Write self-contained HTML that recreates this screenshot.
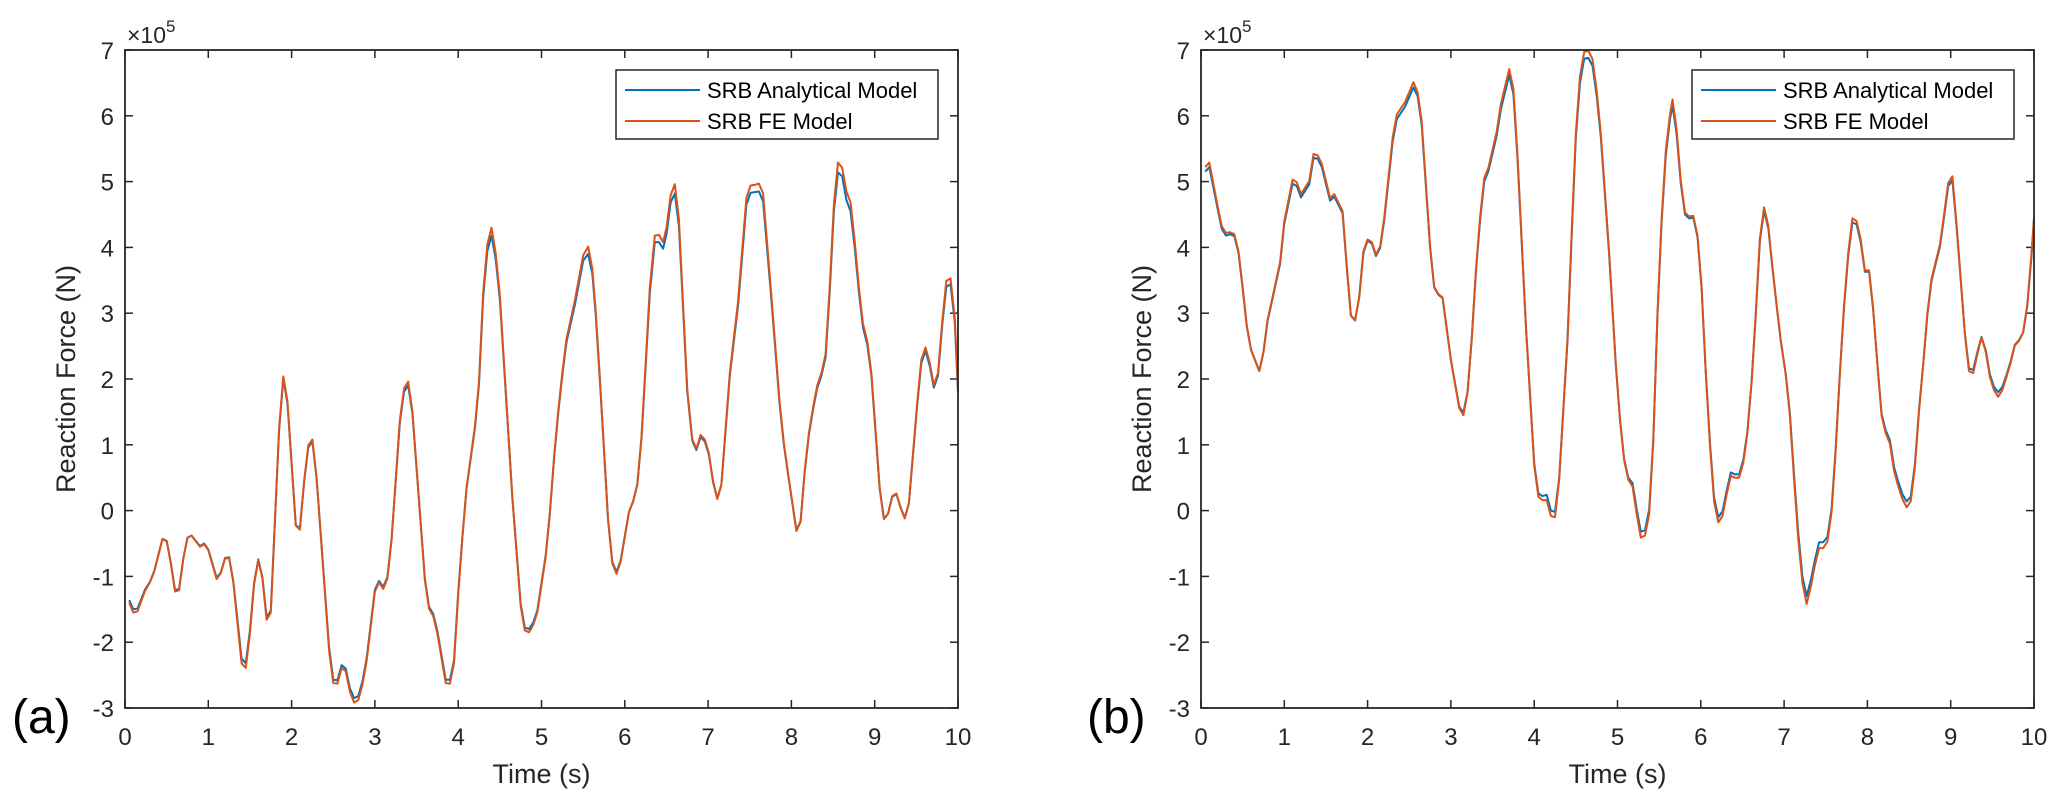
<!DOCTYPE html>
<html><head><meta charset="utf-8"><style>
html,body{margin:0;padding:0;background:#fff;}
svg{display:block;font-family:"Liberation Sans",Arial,sans-serif;}
</style></head><body>
<svg id="fig" width="2067" height="806" viewBox="0 0 2067 806" xmlns="http://www.w3.org/2000/svg"></svg>
<script>
// ---- Chart (a) data ----
const tA = [0.05,0.10,0.15,0.24,0.30,0.35,0.45,0.50,0.55,0.60,0.65,0.70,0.75,0.80,0.90,0.95,1.00,1.10,1.15,1.20,1.25,1.30,1.40,1.45,1.50,1.55,1.60,1.65,1.70,1.75,1.85,1.90,1.95,2.05,2.10,2.15,2.20,2.25,2.30,2.35,2.45,2.50,2.55,2.60,2.65,2.70,2.75,2.80,2.85,2.90,3.00,3.05,3.10,3.15,3.20,3.30,3.35,3.40,3.45,3.60,3.65,3.70,3.75,3.85,3.90,3.95,4.00,4.05,4.10,4.20,4.25,4.30,4.35,4.40,4.45,4.50,4.65,4.75,4.80,4.85,4.90,4.95,5.05,5.10,5.15,5.20,5.25,5.30,5.40,5.50,5.56,5.61,5.65,5.70,5.80,5.85,5.90,5.95,6.05,6.10,6.15,6.20,6.25,6.30,6.36,6.41,6.46,6.50,6.55,6.60,6.65,6.75,6.81,6.86,6.91,6.96,7.01,7.06,7.11,7.16,7.26,7.36,7.46,7.51,7.56,7.61,7.66,7.76,7.86,7.91,7.96,8.06,8.11,8.16,8.21,8.26,8.31,8.36,8.41,8.46,8.51,8.56,8.61,8.66,8.71,8.76,8.81,8.86,8.91,8.96,9.06,9.11,9.16,9.21,9.26,9.31,9.36,9.41,9.51,9.56,9.61,9.66,9.71,9.76,9.81,9.86,9.91,9.96,10.0];
const feA = [-1.40,-1.55,-1.53,-1.22,-1.09,-0.93,-0.43,-0.47,-0.80,-1.23,-1.21,-0.73,-0.41,-0.38,-0.55,-0.51,-0.60,-1.04,-0.95,-0.73,-0.72,-1.09,-2.32,-2.39,-1.87,-1.12,-0.75,-1.03,-1.66,-1.55,1.25,2.04,1.67,-0.23,-0.29,0.44,0.99,1.08,0.50,-0.38,-2.13,-2.62,-2.63,-2.39,-2.44,-2.75,-2.92,-2.88,-2.65,-2.29,-1.23,-1.09,-1.19,-1.03,-0.44,1.38,1.86,1.96,1.51,-1.06,-1.49,-1.60,-1.87,-2.62,-2.63,-2.32,-1.28,-0.41,0.34,1.28,1.96,3.32,4.05,4.30,3.91,3.26,0.21,-1.45,-1.82,-1.85,-1.74,-1.55,-0.70,-0.05,0.79,1.51,2.09,2.61,3.19,3.88,4.01,3.68,3.06,2.03,-0.15,-0.80,-0.96,-0.78,-0.02,0.14,0.40,1.12,2.22,3.39,4.18,4.19,4.08,4.30,4.79,4.96,4.43,1.83,1.08,0.94,1.15,1.08,0.87,0.44,0.18,0.40,2.09,3.19,4.75,4.94,4.95,4.97,4.82,3.26,1.64,1.02,0.56,-0.31,-0.17,0.60,1.18,1.57,1.90,2.09,2.38,3.39,4.66,5.29,5.21,4.85,4.69,4.10,3.39,2.84,2.58,2.09,0.34,-0.13,-0.05,0.22,0.26,0.05,-0.12,0.11,1.64,2.29,2.48,2.25,1.91,2.09,2.87,3.49,3.53,2.94,1.83];
const anA = [-1.36,-1.50,-1.49,-1.20,-1.08,-0.92,-0.43,-0.46,-0.79,-1.20,-1.19,-0.73,-0.41,-0.38,-0.54,-0.50,-0.59,-1.02,-0.94,-0.72,-0.71,-1.07,-2.25,-2.32,-1.82,-1.10,-0.74,-1.01,-1.62,-1.52,1.22,2.00,1.64,-0.22,-0.27,0.43,0.96,1.05,0.49,-0.37,-2.08,-2.57,-2.58,-2.35,-2.40,-2.70,-2.85,-2.82,-2.60,-2.25,-1.20,-1.07,-1.16,-1.01,-0.43,1.35,1.81,1.90,1.48,-1.04,-1.46,-1.57,-1.83,-2.57,-2.57,-2.28,-1.25,-0.40,0.33,1.25,1.92,3.25,3.95,4.18,3.82,3.20,0.21,-1.42,-1.78,-1.80,-1.70,-1.52,-0.68,-0.05,0.78,1.48,2.05,2.56,3.12,3.80,3.90,3.60,3.00,2.00,-0.14,-0.78,-0.93,-0.76,-0.02,0.14,0.39,1.10,2.17,3.30,4.08,4.08,3.98,4.20,4.68,4.82,4.33,1.80,1.06,0.92,1.12,1.05,0.85,0.43,0.18,0.39,2.05,3.12,4.65,4.83,4.84,4.85,4.70,3.20,1.60,1.00,0.55,-0.30,-0.16,0.59,1.15,1.54,1.86,2.05,2.33,3.32,4.55,5.14,5.08,4.72,4.55,4.00,3.32,2.78,2.53,2.05,0.33,-0.12,-0.05,0.21,0.25,0.05,-0.11,0.11,1.60,2.24,2.43,2.20,1.87,2.05,2.81,3.40,3.44,2.88,1.80];
// ---- Chart (b) data ----
const tB = [0.05,0.10,0.20,0.25,0.30,0.35,0.40,0.45,0.50,0.55,0.60,0.70,0.75,0.80,0.85,0.95,1.00,1.10,1.15,1.20,1.30,1.35,1.40,1.45,1.55,1.60,1.70,1.75,1.80,1.85,1.90,1.95,2.00,2.05,2.10,2.15,2.20,2.30,2.35,2.45,2.55,2.60,2.65,2.75,2.80,2.85,2.90,3.00,3.10,3.15,3.20,3.25,3.30,3.35,3.40,3.45,3.55,3.60,3.70,3.75,3.80,3.90,4.00,4.05,4.10,4.15,4.20,4.25,4.30,4.40,4.45,4.50,4.55,4.60,4.65,4.70,4.75,4.80,4.90,4.98,5.03,5.08,5.13,5.18,5.23,5.28,5.33,5.38,5.43,5.48,5.53,5.58,5.63,5.66,5.71,5.76,5.81,5.86,5.91,5.96,6.01,6.06,6.11,6.16,6.21,6.26,6.31,6.36,6.41,6.46,6.51,6.56,6.61,6.66,6.71,6.76,6.81,6.86,6.91,6.96,7.02,7.07,7.12,7.17,7.22,7.27,7.32,7.37,7.42,7.47,7.52,7.57,7.62,7.67,7.72,7.77,7.82,7.87,7.92,7.97,8.02,8.07,8.12,8.17,8.22,8.27,8.32,8.37,8.42,8.47,8.52,8.57,8.62,8.67,8.72,8.77,8.82,8.87,8.92,8.97,9.02,9.07,9.12,9.17,9.22,9.27,9.32,9.37,9.42,9.47,9.52,9.57,9.62,9.67,9.72,9.77,9.82,9.87,9.92,9.97,10.0];
const feB = [5.22,5.29,4.62,4.32,4.22,4.23,4.20,3.94,3.39,2.81,2.45,2.12,2.42,2.90,3.19,3.78,4.40,5.03,4.99,4.81,5.01,5.42,5.40,5.27,4.75,4.81,4.55,3.71,2.97,2.89,3.26,3.94,4.12,4.08,3.89,4.01,4.46,5.66,6.02,6.21,6.51,6.36,5.92,4.01,3.40,3.29,3.24,2.29,1.56,1.45,1.80,2.61,3.65,4.46,5.05,5.21,5.76,6.18,6.71,6.41,5.40,2.81,0.69,0.21,0.16,0.16,-0.08,-0.10,0.47,2.61,4.23,5.73,6.60,6.97,6.99,6.86,6.38,5.73,3.91,2.22,1.38,0.76,0.47,0.37,-0.05,-0.41,-0.38,-0.05,1.05,3.00,4.43,5.47,6.02,6.25,5.79,5.01,4.53,4.47,4.48,4.18,3.39,2.09,0.99,0.14,-0.18,-0.08,0.24,0.53,0.50,0.50,0.73,1.18,1.96,3.00,4.14,4.61,4.33,3.71,3.13,2.58,2.06,1.44,0.47,-0.44,-1.09,-1.42,-1.16,-0.83,-0.57,-0.57,-0.47,-0.02,0.92,2.09,3.13,3.91,4.44,4.40,4.12,3.65,3.65,3.06,2.22,1.44,1.18,1.02,0.60,0.37,0.18,0.05,0.14,0.66,1.51,2.22,3.00,3.52,3.78,4.04,4.49,4.98,5.08,4.36,3.52,2.68,2.12,2.09,2.38,2.63,2.42,2.03,1.83,1.73,1.83,2.03,2.25,2.51,2.58,2.71,3.13,3.91,4.45];
const anB = [5.15,5.22,4.58,4.28,4.18,4.20,4.17,3.92,3.37,2.80,2.44,2.12,2.41,2.88,3.17,3.75,4.36,4.97,4.93,4.76,4.96,5.36,5.35,5.22,4.71,4.77,4.52,3.69,2.96,2.89,3.25,3.92,4.10,4.06,3.87,3.99,4.42,5.60,5.95,6.14,6.43,6.30,5.86,4.00,3.39,3.28,3.23,2.29,1.58,1.49,1.81,2.60,3.62,4.41,5.00,5.16,5.70,6.10,6.62,6.33,5.35,2.80,0.72,0.26,0.22,0.24,0.00,-0.02,0.50,2.58,4.18,5.66,6.50,6.87,6.88,6.76,6.30,5.68,3.88,2.22,1.38,0.78,0.50,0.42,0.02,-0.32,-0.30,0.02,1.08,2.98,4.38,5.40,5.95,6.16,5.72,4.97,4.50,4.44,4.45,4.16,3.38,2.10,1.02,0.20,-0.10,-0.01,0.30,0.58,0.55,0.55,0.77,1.20,1.96,2.98,4.10,4.56,4.29,3.69,3.12,2.58,2.07,1.48,0.53,-0.35,-1.00,-1.30,-1.06,-0.75,-0.48,-0.48,-0.40,0.03,0.95,2.09,3.10,3.87,4.38,4.35,4.08,3.63,3.63,3.05,2.23,1.47,1.22,1.07,0.66,0.44,0.25,0.14,0.21,0.70,1.53,2.22,2.98,3.49,3.75,4.01,4.45,4.93,5.02,4.33,3.51,2.69,2.16,2.14,2.41,2.64,2.44,2.07,1.88,1.80,1.88,2.06,2.27,2.52,2.59,2.71,3.11,3.87,4.42];
const yTicks = [-3,-2,-1,0,1,2,3,4,5,6,7];
const xTicks = [0,1,2,3,4,5,6,7,8,9,10];
const legendLabels = ["SRB Analytical Model","SRB FE Model"];

const NS = "http://www.w3.org/2000/svg";
const svg = document.getElementById('fig');
function mk(tag, attrs, parent){ const e=document.createElementNS(NS,tag); for(const k in attrs) e.setAttribute(k,attrs[k]); (parent||svg).appendChild(e); return e; }

function drawChart(x0, key, tArr, anArr, feArr, panelLabel, labelX){
  const g = mk('g',{});
  
  
  const W=833, top=50, bot=708;
  const xS = t => x0 + t/10*W;
  const yS = v => bot - (v+3)/10*(bot-top);
  for(const v of yTicks){
    const y=yS(v);
    mk('line',{x1:x0,x2:x0+8,y1:y,y2:y,stroke:'#262626','stroke-width':1.5},g);
    mk('line',{x1:x0+W,x2:x0+W-8,y1:y,y2:y,stroke:'#262626','stroke-width':1.5},g);
    const tx=mk('text',{x:x0-11,y:y+9,'text-anchor':'end','font-size':24,fill:'#262626'},g);
    tx.textContent=String(v);
    
    
  }
  for(const t of xTicks){
    const x=xS(t);
    mk('line',{x1:x,x2:x,y1:bot,y2:bot-8,stroke:'#262626','stroke-width':1.5},g);
    mk('line',{x1:x,x2:x,y1:top,y2:top+8,stroke:'#262626','stroke-width':1.5},g);
    const tx=mk('text',{x:x,y:745,'text-anchor':'middle','font-size':24,fill:'#262626'},g);
    tx.textContent=String(t);
    
    
  }
  const pts = (arr)=>arr.map((v,i)=>xS(tArr[i]).toFixed(1)+','+yS(v).toFixed(1)).join(' ');
  const pa=mk('polyline',{points:pts(anArr),fill:'none',stroke:'#0072BD','stroke-width':2,'stroke-linejoin':'round'},g);
  
  
  const pf=mk('polyline',{points:pts(feArr),fill:'none',stroke:'#D95319','stroke-width':2,'stroke-linejoin':'round'},g);
  
  
  const box=mk('rect',{x:x0,y:top,width:W,height:bot-top,fill:'none',stroke:'#262626','stroke-width':1.8},g);
  
  
  const ex=mk('text',{x:x0+2,y:43,'font-size':23,fill:'#262626'},g);
  ex.innerHTML='×10<tspan dy="-11" font-size="17">5</tspan>';
  
  
  const xt=mk('text',{x:x0+W/2,y:783,'text-anchor':'middle','font-size':27,fill:'#262626'},g);
  xt.textContent='Time (s)';
  
  
  const yt=mk('text',{x:0,y:0,'text-anchor':'middle','font-size':27,fill:'#262626',transform:`translate(${x0-50},379) rotate(-90)`},g);
  yt.textContent='Reaction Force (N)';
  
  
  const lx=x0+491;
  const lg=mk('g',{},g);
  
  
  mk('rect',{x:lx,y:70,width:322,height:69,fill:'#fff',stroke:'#262626','stroke-width':1.5},lg);
  const cols=['#0072BD','#D95319'];
  legendLabels.forEach((lab,i)=>{
    const y=90+i*31;
    mk('line',{x1:lx+9,x2:lx+84,y1:y,y2:y,stroke:cols[i],'stroke-width':2},lg);
    const tx=mk('text',{x:lx+91,y:y+8,'font-size':22,fill:'#000'},lg);
    tx.textContent=lab;
    
    
  });
  const pl=mk('text',{x:labelX,y:733,'font-size':48,fill:'#000'},g);
  pl.textContent=panelLabel;
  
  
}
drawChart(125,'a',tA,anA,feA,'(a)',12);
drawChart(1201,'b',tB,anB,feB,'(b)',1087);
</script>
</body></html>
